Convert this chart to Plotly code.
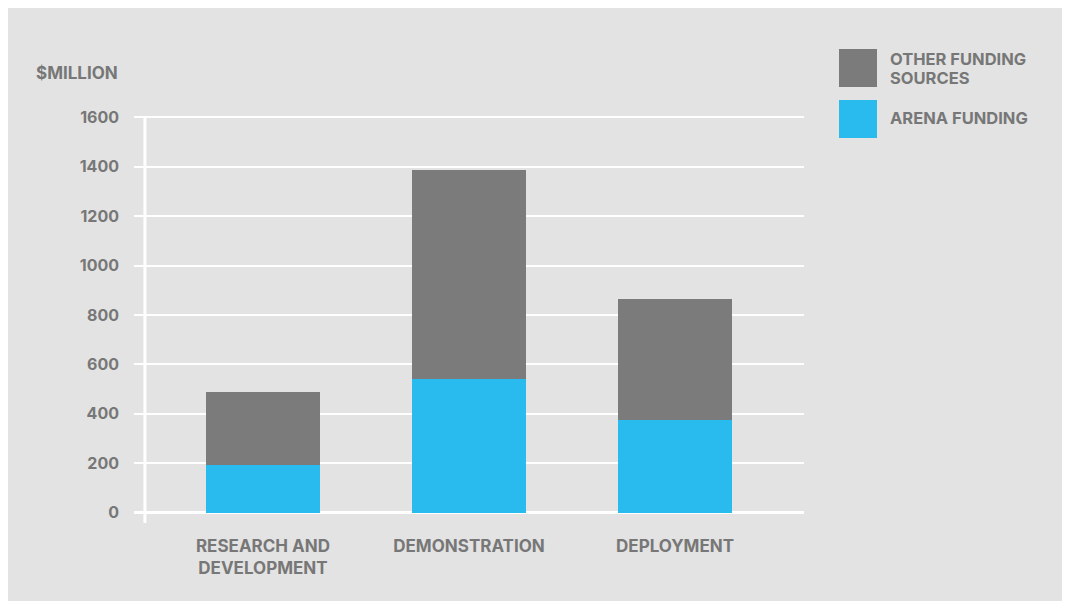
import plotly.graph_objects as go

categories = ["RESEARCH AND<br>DEVELOPMENT", "DEMONSTRATION", "DEPLOYMENT"]
arena_funding = [192, 541, 375]
other_funding = [296, 846, 490]  # stacked on top of ARENA funding
y_ticks = [0, 200, 400, 600, 800, 1000, 1200, 1400, 1600]
legend_labels = [["OTHER FUNDING", "SOURCES"], ["ARENA FUNDING"]]
y_title = "$MILLION"

OFF = 8  # page body margin
W, H = 1054, 593
L, R, T, B = 126, 258, 108, 76
PW, PH = W - L - R, H - T - B

BG = "#e3e3e3"
GREY = "#7b7b7b"
BLUE = "#29bbed"
TXT = "#777777"
FONT = "Inter"


def px(xs):
    return (xs - OFF - L) / PW


def py(ys):
    return (H - B - (ys - OFF)) / PH


fig = go.Figure()
fig.add_trace(go.Bar(x=categories, y=arena_funding, marker=dict(color=BLUE, line=dict(width=0)),
                     width=0.553, name="ARENA FUNDING", showlegend=False))
fig.add_trace(go.Bar(x=categories, y=other_funding, marker=dict(color=GREY, line=dict(width=0)),
                     width=0.553, name="OTHER FUNDING SOURCES", showlegend=False))

shapes = []
# vertical axis line
shapes.append(dict(type="line", xref="x", yref="y", x0=-0.573, x1=-0.573, y0=-42, y1=1600,
                   line=dict(color="white", width=3), layer="above"))
# legend swatches
for (y0, y1), col in zip([(49, 87), (100, 138)], [GREY, BLUE]):
    shapes.append(dict(type="rect", xref="paper", yref="paper", x0=px(839), x1=px(877),
                       y0=py(y1), y1=py(y0), fillcolor=col, line=dict(width=0)))

annotations = []
annotations.append(dict(text=y_title, xref="paper", yref="paper", x=px(120), y=py(73),
                        xanchor="right", yanchor="middle", showarrow=False,
                        font=dict(family=FONT, size=17, color=TXT, weight="bold")))
for lines, ys in zip(legend_labels, [[59, 78], [118]]):
    for t, yy in zip(lines, ys):
        annotations.append(dict(text=t, xref="paper", yref="paper", x=px(888), y=py(yy),
                                xanchor="left", yanchor="middle", showarrow=False,
                                font=dict(family=FONT, size=16.5, color=TXT, weight="bold")))

fig.update_layout(
    width=W, height=H,
    margin=dict(l=L, r=R, t=T, b=B, autoexpand=False),
    paper_bgcolor=BG, plot_bgcolor=BG,
    barmode="stack", bargap=0,
    shapes=shapes, annotations=annotations,
    font=dict(family=FONT, size=16, color=TXT, weight="bold"),
    xaxis=dict(range=[-0.626, 2.626], showgrid=False, zeroline=False, showline=False,
               ticks="", ticklabelstandoff=9, tickfont=dict(family=FONT, size=17, color=TXT, weight="bold")),
    yaxis=dict(range=[-50, 1605], tickvals=y_ticks, showgrid=True, gridcolor="white", gridwidth=2,
               zeroline=True, zerolinecolor="white", zerolinewidth=3, showline=False, ticks="",
               ticklabelstandoff=14, tickfont=dict(family=FONT, size=16, color=TXT, weight="bold")),
)

fig.write_html("out.html")
